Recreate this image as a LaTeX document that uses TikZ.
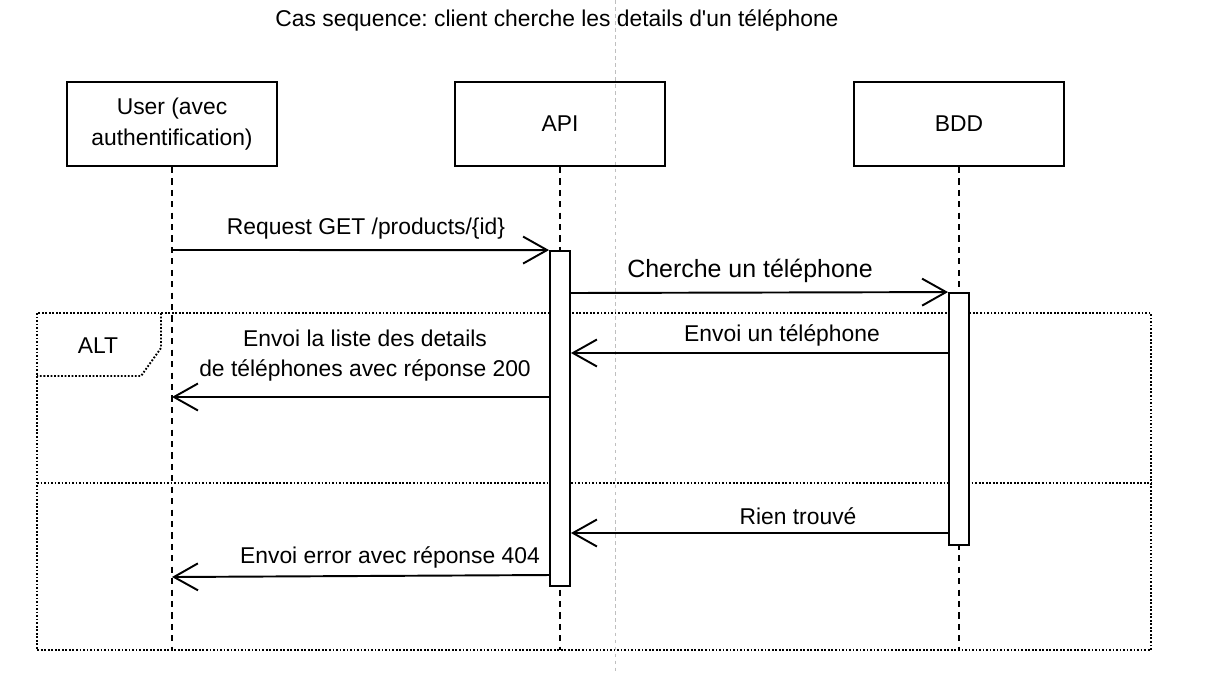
\documentclass[tikz,border=0pt]{standalone}
\usepackage{fontspec}
\setmainfont{Liberation Sans}
\usetikzlibrary{arrows.meta}
\frenchspacing

\tikzset{
	actor/.style={draw, line width=1.1pt, minimum width=4.2cm, minimum height=1.68cm, align=center},
	lifeline/.style={line width=1.1pt, dash pattern=on 3.5pt off 3pt},
	activation/.style={draw, line width=1.1pt, fill=white, minimum width=0.4cm, inner sep=0pt},
	msg/.style={line width=1.1pt, -{Straight Barb[length=4.8mm, width=5.4mm, line width=1.1pt]}},
	frame/.style={line width=1.1pt, dash pattern=on 1pt off 1pt},
	lbl/.style={align=center, inner sep=0pt}
}

\begin{document}
\begin{tikzpicture}[x=0.02cm, y=-0.02cm, font=\fontsize{13}{17}\selectfont]
	\useasboundingbox (0,0) rectangle (1223,674);

	% guide line in the middle
	\draw[gray!50, line width=0.4pt, dash pattern=on 2pt off 2pt] (615,0) -- (615,674);

	\node[lbl] (title) at (557,20) {Cas sequence: client cherche les details d\textquotesingle un téléphone};

	% participants
	\node[actor, font=\fontsize{13}{18}\selectfont] (user) at (172,124) {User (avec\\authentification)};
	\node[actor] (api) at (560,124) {API};
	\node[actor] (bdd) at (959,124) {BDD};

	\coordinate (userend) at (172,650);
	\coordinate (apiend) at (560,650);
	\coordinate (bddend) at (959,650);
	\draw[lifeline] (user.south) -- (userend);
	\draw[lifeline] (api.south) -- (apiend);
	\draw[lifeline] (bdd.south) -- (bddend);

	% ALT frame
	\draw[frame] (37,313) rectangle (1151,650);
	\draw[frame] (37,483) -- (1151,483);
	\draw[frame] (161,313) -- (161,348) -- (141,376) -- (37,376);
	\node[lbl] (alt) at (98,346) {ALT};

	% activations
	\node[activation, minimum height=6.7cm] (apiact) at (560,418.5) {};
	\node[activation, minimum height=5.04cm] (bddact) at (959,419) {};

	% messages
	\coordinate (u1) at (172,250);
	\coordinate (u4) at (172,397);
	\coordinate (u6) at (172,577);
	\coordinate (a2) at (570,293);
	\coordinate (b3) at (949,353);
	\coordinate (a4) at (550,397);
	\coordinate (b5) at (949,533);
	\coordinate (a6) at (550,575);

	\draw[msg] (u1) -- (apiact.north west);
	\node[lbl] (m1) at (366,229) {Request GET /products/\{id\}};

	\draw[msg] (a2) -- (bddact.north west);
	\node[lbl, font=\fontsize{14.2}{17}\selectfont] (m2) at (750,271) {Cherche un téléphone};

	\draw[msg] (b3) -- (apiact.east |- b3);
	\node[lbl] (m3) at (782,335) {Envoi un téléphone};

	\draw[msg] (a4) -- (u4);
	\node[lbl] (m4) at (365,356) {Envoi la liste des details\\de téléphones avec réponse 200};

	\draw[msg] (b5) -- (apiact.east |- b5);
	\node[lbl] (m5) at (798,516) {Rien trouvé};

	\draw[msg] (a6) -- (u6);
	\node[lbl] (m6) at (390,557) {Envoi error avec réponse 404};
\end{tikzpicture}
\end{document}
